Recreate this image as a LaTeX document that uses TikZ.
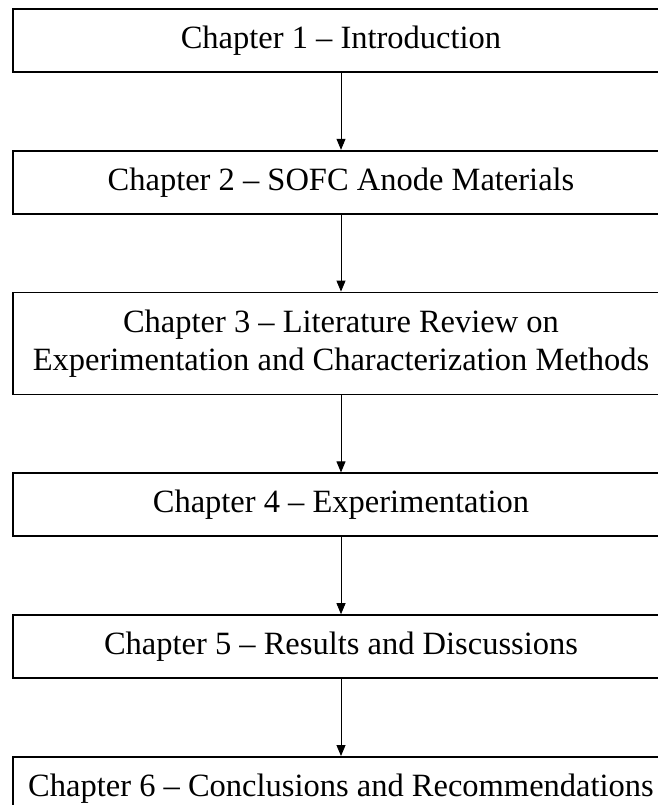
\documentclass[tikz,border=0pt]{standalone}
\usepackage{fontspec}
\setmainfont{Liberation Serif}
\usetikzlibrary{positioning,arrows.meta}
\begin{document}
\begin{tikzpicture}[x=1pt, y=1pt,
        capitulo/.style={draw=black, line width=1.8pt, minimum width=656pt, minimum height=63pt, inner sep=0pt, align=center, font=\fontsize{32.5}{37.4}\selectfont},
        flecha/.style={black, line width=0.9pt, -{Triangle[length=11pt, width=9pt]}},
        node distance=77pt]
            % Marco
            \useasboundingbox (0,0) rectangle (657,-805);
            
            % Capítulos
            \node[capitulo, anchor=north] (cap1) at (341,-8) {Chapter 1 -- Introduction};
            \node[capitulo, below=of cap1] (cap2) {Chapter 2 -- SOFC Anode Materials};
            \node[capitulo, below=of cap2, minimum height=102pt] (cap3) {Chapter 3 -- Literature Review on\\Experimentation and Characterization Methods};
            \node[capitulo, below=of cap3] (cap4) {Chapter 4 -- Experimentation};
            \node[capitulo, below=of cap4] (cap5) {Chapter 5 -- Results and Discussions};
            \node[capitulo, below=of cap5] (cap6) {Chapter 6 -- Conclusions and Recommendations};
            
            % Flechas
            \draw[flecha] (cap1) -- (cap2);
            \draw[flecha] (cap2) -- (cap3);
            \draw[flecha] (cap3) -- (cap4);
            \draw[flecha] (cap4) -- (cap5);
            \draw[flecha] (cap5) -- (cap6);
        \end{tikzpicture}
\end{document}
